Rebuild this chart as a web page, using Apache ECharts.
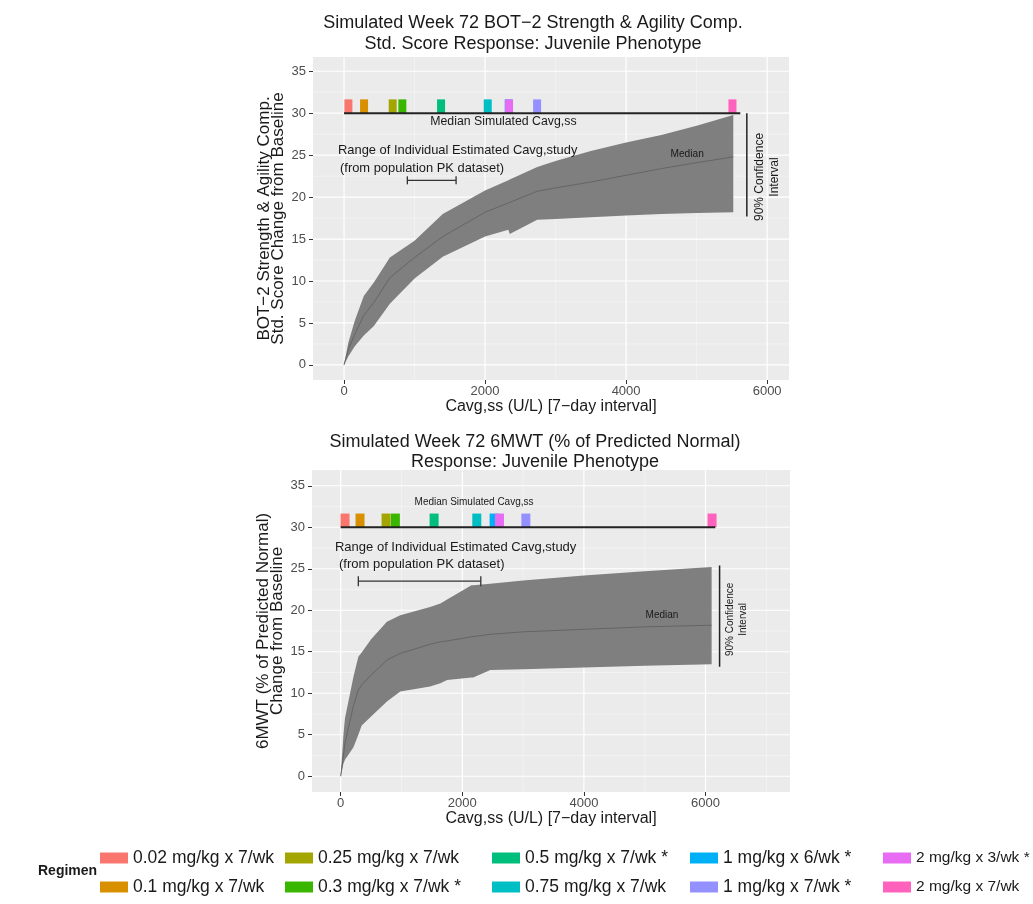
<!DOCTYPE html>
<html>
<head>
<meta charset="utf-8">
<script src="https://cdn.jsdelivr.net/npm/echarts@6/dist/echarts.min.js"></script>
<style>
  html, body { margin: 0; padding: 0; background: #fff; }
  #chart { width: 1033px; height: 904px; }
</style>
</head>
<body>
<div id="chart"></div>
<script>
// ---- Regimens (legend order) and their colours ----
const regimens = [
  '0.02 mg/kg x 7/wk', '0.1 mg/kg x 7/wk', '0.25 mg/kg x 7/wk', '0.3 mg/kg x 7/wk *',
  '0.5 mg/kg x 7/wk *', '0.75 mg/kg x 7/wk', '1 mg/kg x 6/wk *', '1 mg/kg x 7/wk *',
  '2 mg/kg x 3/wk *', '2 mg/kg x 7/wk'
];
const regimenColors = ['#F8766D', '#D89000', '#A3A500', '#39B600', '#00BF7D',
                       '#00BFC4', '#00B0F6', '#9590FF', '#E76BF3', '#FF62BC'];

// ---- Axis breaks ----
const xTicks = [0, 2000, 4000, 6000];
const yTicks = [0, 5, 10, 15, 20, 25, 30, 35];
const xMinorTop = [1000, 3000, 5000];
const xMinorBottom = [1000, 3000, 5000, 7000];
const yMinor = [2.5, 7.5, 12.5, 17.5, 22.5, 27.5, 32.5];

// ---- BOT-2 Strength & Agility: simulated response vs Cavg,ss ----
const botX      = [0, 60, 150, 280, 420, 650, 1000, 1400, 2000, 2330, 2350, 2740, 3000, 3500, 4000, 4500, 5000, 5520];
const botUpper  = [0, 2.6, 5.2, 8.2, 9.8, 12.8, 14.8, 18.0, 20.8, 22.0, 22.1, 23.6, 24.3, 25.5, 26.5, 27.4, 28.5, 29.8];
const botMedian = [0, 1.8, 3.6, 5.9, 7.4, 10.4, 12.8, 15.3, 18.2, 19.3, 19.2, 20.7, 21.1, 21.8, 22.6, 23.4, 24.1, 24.8];
const botLower  = [0, 1.0, 2.2, 3.5, 4.6, 7.3, 10.3, 12.9, 15.3, 16.1, 15.6, 17.3, 17.4, 17.6, 17.8, 18.0, 18.1, 18.2];
// median simulated Cavg,ss per regimen (same order as regimens)
const botCavg = [62, 284, 690, 827, 1376, 2038, 2335, 2738, 2340, 5508];
const botSimSpan = [0, 5620];          // extent of the Cavg,ss reference line
const botStudyRange = [898, 1589];     // range of individual estimated Cavg,study
const botCI = [17.7, 30];              // 90% confidence interval bracket

// ---- 6MWT (% of predicted normal): simulated response vs Cavg,ss ----
const mwtX      = [0, 45, 70, 210, 290, 345, 500, 760, 980, 1470, 1640, 1750, 2150, 2180, 2460, 3000, 4000, 5000, 6100];
const mwtUpper  = [0, 5.0, 7.0, 12.0, 14.4, 14.9, 16.5, 18.6, 19.4, 20.4, 20.8, 21.3, 23.0, 23.0, 23.2, 23.6, 24.2, 24.7, 25.2];
const mwtMedian = [0, 2.5, 4.0, 8.5, 10.4, 11.0, 12.2, 14.0, 14.8, 15.9, 16.2, 16.3, 16.8, 16.8, 17.1, 17.4, 17.7, 18.0, 18.2];
const mwtLower  = [0, 1.5, 2.0, 3.5, 5.0, 6.1, 7.2, 9.0, 10.2, 10.8, 11.2, 11.6, 11.9, 11.9, 12.8, 12.9, 13.1, 13.3, 13.5];
const mwtCavg = [71, 318, 746, 899, 1536, 2238, 2523, 3045, 2611, 6107];
const mwtSimSpan = [0, 6160];
const mwtStudyRange = [290, 2304];
const mwtCI = [13.2, 25.4];

const FONT = "'Liberation Sans', Arial, Helvetica, sans-serif";
const INK = '#1a1a1a';

const panels = [
  {
    grid: { left: 313, top: 57, width: 476, height: 323 },
    xRange: [-440, 6310], yRange: [-1.8, 36.7], xMinor: xMinorTop,
    x: botX, lo: botLower, mid: botMedian, hi: botUpper,
    cavg: botCavg, simLevel: 30, simTop: 31.65, simSpan: botSimSpan,
    study: botStudyRange, studyLevel: 22.0, ciX: 5712, ci: botCI,
    barW: 8, cap: 4, nameGap: 18,
    yName: 'BOT\u22122 Strength & Agility Comp.\nStd. Score Change from Baseline',
    notes: [
      { text: 'Median Simulated Cavg,ss', x: 2260, y: 29.0, size: 12.3 },
      { text: 'Range of Individual Estimated Cavg,study', x: -85, y: 25.6, size: 12.9, align: 'left' },
      { text: '(from population PK dataset)', x: -57, y: 23.4, size: 12.9, align: 'left' },
      { text: 'Median', x: 4865, y: 25.1, size: 10.2 },
      { text: '90% Confidence\nInterval', x: 6006, y: 22.4, size: 12, lh: 15, rotate: true }
    ]
  },
  {
    grid: { left: 312, top: 470, width: 478, height: 322 },
    xRange: [-472, 7389], yRange: [-1.9, 36.9], xMinor: xMinorBottom,
    x: mwtX, lo: mwtLower, mid: mwtMedian, hi: mwtUpper,
    cavg: mwtCavg, simLevel: 30, simTop: 31.65, simSpan: mwtSimSpan,
    study: mwtStudyRange, studyLevel: 23.5, ciX: 6231, ci: mwtCI,
    barW: 9, cap: 5, nameGap: 17,
    yName: '6MWT (% of Predicted Normal)\nChange from Baseline',
    notes: [
      { text: 'Median Simulated Cavg,ss', x: 2193, y: 33.05, size: 10 },
      { text: 'Range of Individual Estimated Cavg,study', x: -94, y: 27.6, size: 13, align: 'left' },
      { text: '(from population PK dataset)', x: -28, y: 25.5, size: 13, align: 'left' },
      { text: 'Median', x: 5284, y: 19.4, size: 10 },
      { text: '90% Confidence\nInterval', x: 6515, y: 18.9, size: 10, lh: 13, rotate: true }
    ]
  }
];

function gridLineSeries(p, cfg) {
  const data = [];
  cfg.xMinor.forEach(v => data.push([v, 0, 0]));
  yMinor.forEach(v => data.push([v, 1, 0]));
  xTicks.forEach(v => data.push([v, 0, 1]));
  yTicks.forEach(v => data.push([v, 1, 1]));
  return {
    type: 'custom', xAxisIndex: p, yAxisIndex: p, z: 1, silent: true,
    data: data,
    renderItem(params, api) {
      const v = api.value(0), horiz = api.value(1), major = api.value(2);
      const a = horiz ? api.coord([cfg.xRange[0], v]) : api.coord([v, cfg.yRange[0]]);
      const b = horiz ? api.coord([cfg.xRange[1], v]) : api.coord([v, cfg.yRange[1]]);
      return {
        type: 'line',
        shape: { x1: a[0], y1: a[1], x2: b[0], y2: b[1] },
        style: { stroke: major ? '#ffffff' : '#f6f6f6', lineWidth: major ? 1.2 : 0.6 }
      };
    }
  };
}

function ribbonSeries(p, cfg) {
  return {
    type: 'custom', xAxisIndex: p, yAxisIndex: p, z: 2, silent: true,
    data: cfg.x.map((x, i) => [x, cfg.lo[i], cfg.hi[i]]),
    renderItem(params, api) {
      if (params.dataIndex !== 0) return null;
      const pts = [];
      for (let i = 0; i < cfg.x.length; i++) pts.push(api.coord([cfg.x[i], cfg.hi[i]]));
      for (let i = cfg.x.length - 1; i >= 0; i--) pts.push(api.coord([cfg.x[i], cfg.lo[i]]));
      return { type: 'polygon', shape: { points: pts }, style: { fill: '#7f7f7f' } };
    }
  };
}

function medianSeries(p, cfg) {
  return {
    type: 'line', xAxisIndex: p, yAxisIndex: p, z: 3, silent: true,
    symbol: 'none',
    data: cfg.x.map((x, i) => [x, cfg.mid[i]]),
    lineStyle: { color: '#656565', width: 1 }
  };
}

function regimenSeries(p, cfg) {
  return regimens.map((name, r) => ({
    name: name, type: 'custom', xAxisIndex: p, yAxisIndex: p, z: 4, silent: true,
    itemStyle: { color: regimenColors[r] },
    data: [[cfg.cavg[r], cfg.simTop]],
    renderItem(params, api) {
      const base = api.coord([api.value(0), cfg.simLevel]);
      const top = api.coord([api.value(0), api.value(1)]);
      return {
        type: 'rect',
        shape: { x: base[0] - cfg.barW / 2, y: top[1], width: cfg.barW, height: base[1] - top[1] },
        style: { fill: api.visual('color') }
      };
    }
  }));
}

function refLineSeries(p, cfg) {
  return [
    {
      type: 'line', xAxisIndex: p, yAxisIndex: p, z: 5, silent: true, symbol: 'none',
      data: cfg.simSpan.map(x => [x, cfg.simLevel]),
      lineStyle: { color: '#222', width: 2 }
    },
    {
      type: 'line', xAxisIndex: p, yAxisIndex: p, z: 5, silent: true, symbol: 'none',
      data: cfg.ci.map(y => [cfg.ciX, y]),
      lineStyle: { color: '#222', width: 1.5 }
    },
    {
      type: 'custom', xAxisIndex: p, yAxisIndex: p, z: 5, silent: true,
      data: [[cfg.study[0], cfg.studyLevel, cfg.study[1]]],
      renderItem(params, api) {
        const a = api.coord([api.value(0), api.value(1)]);
        const b = api.coord([api.value(2), api.value(1)]);
        const st = { stroke: '#333', lineWidth: 1.3 };
        return {
          type: 'group', children: [
            { type: 'line', shape: { x1: a[0], y1: a[1], x2: b[0], y2: b[1] }, style: st },
            { type: 'line', shape: { x1: a[0], y1: a[1] - cfg.cap, x2: a[0], y2: a[1] + cfg.cap }, style: st },
            { type: 'line', shape: { x1: b[0], y1: b[1] - cfg.cap, x2: b[0], y2: b[1] + cfg.cap }, style: st }
          ]
        };
      }
    }
  ];
}

function noteSeries(p, cfg) {
  return {
    type: 'custom', xAxisIndex: p, yAxisIndex: p, z: 6, silent: true, clip: false,
    data: cfg.notes.map((n, i) => [n.x, n.y, i]),
    renderItem(params, api) {
      const n = cfg.notes[params.dataIndex];
      const pt = api.coord([n.x, n.y]);
      return {
        type: 'text', x: pt[0], y: pt[1], rotation: n.rotate ? Math.PI / 2 : 0,
        style: {
          text: n.text, fill: INK,
          font: n.size + 'px ' + FONT,
          align: n.align || 'center', verticalAlign: 'middle',
          lineHeight: n.lh || n.size
        }
      };
    }
  };
}

const series = [];
panels.forEach((cfg, p) => {
  series.push(gridLineSeries(p, cfg), ribbonSeries(p, cfg), medianSeries(p, cfg));
  series.push(...regimenSeries(p, cfg));
  series.push(...refLineSeries(p, cfg));
  series.push(noteSeries(p, cfg));
});

// legend: two rows, filled column by column
const legendColumns = [[0, 1], [2, 3], [4, 5], [6, 7], [8, 9]];
const legendLeft = [100, 285, 492, 690, 883];
const legendFontSize = [17.5, 17.5, 17.5, 17.5, 15.5];

const option = {
  animation: false,
  backgroundColor: '#ffffff',
  title: [
    {
      text: 'Simulated Week 72 BOT\u22122 Strength & Agility Comp.\nStd. Score Response: Juvenile Phenotype',
      left: 533, top: 13, textAlign: 'center', padding: 0,
      textStyle: { fontFamily: FONT, fontSize: 18, fontWeight: 'normal', color: INK, lineHeight: 21 }
    },
    {
      text: 'Simulated Week 72 6MWT (% of Predicted Normal)\nResponse: Juvenile Phenotype',
      left: 535, top: 432, textAlign: 'center', padding: 0,
      textStyle: { fontFamily: FONT, fontSize: 18, fontWeight: 'normal', color: INK, lineHeight: 20 }
    }
  ],
  grid: panels.map(cfg => Object.assign({
    show: true, backgroundColor: '#ebebeb', borderWidth: 0, containLabel: false,
    outerBoundsMode: 'none'
  }, cfg.grid)),
  xAxis: panels.map((cfg, p) => ({
    type: 'value', gridIndex: p, min: cfg.xRange[0], max: cfg.xRange[1],
    axisLine: { show: false, onZero: false },
    axisTick: { show: true, length: 4, customValues: xTicks, lineStyle: { color: '#333', width: 1 } },
    axisLabel: {
      customValues: xTicks, color: '#4d4d4d', fontSize: 13, fontFamily: FONT, margin: 5,
      formatter: v => String(v)
    },
    splitLine: { show: false },
    name: 'Cavg,ss (U/L) [7\u2212day interval]', nameLocation: 'middle', nameGap: cfg.nameGap,
    nameTextStyle: { fontFamily: FONT, fontSize: 16, color: INK, verticalAlign: 'top' }
  })),
  yAxis: panels.map((cfg, p) => ({
    type: 'value', gridIndex: p, min: cfg.yRange[0], max: cfg.yRange[1],
    axisLine: { show: false, onZero: false },
    axisTick: { show: true, length: 4, customValues: yTicks, lineStyle: { color: '#333', width: 1 } },
    axisLabel: { customValues: yTicks, color: '#4d4d4d', fontSize: 13, fontFamily: FONT, margin: 7 },
    splitLine: { show: false },
    name: cfg.yName, nameLocation: 'middle', nameGap: 28, nameRotate: 90,
    nameTextStyle: { fontFamily: FONT, fontSize: 17, color: INK, lineHeight: 14 }
  })),
  legend: legendColumns.map((col, i) => ({
    orient: 'vertical', left: legendLeft[i], top: 848, padding: 0,
    itemWidth: 28, itemHeight: 11, itemGap: 9, icon: 'rect', selectedMode: false,
    data: col.map(k => regimens[k]),
    textStyle: { fontFamily: FONT, fontSize: legendFontSize[i], color: INK, lineHeight: 20 }
  })),
  graphic: [
    {
      type: 'text', left: 38, top: 864,
      style: { text: 'Regimen', font: 'bold 14px ' + FONT, fill: INK }
    }
  ],
  series: series
};

const chart = echarts.init(document.getElementById('chart'), null, { renderer: 'canvas' });
chart.setOption(option);
</script>
</body>
</html>
